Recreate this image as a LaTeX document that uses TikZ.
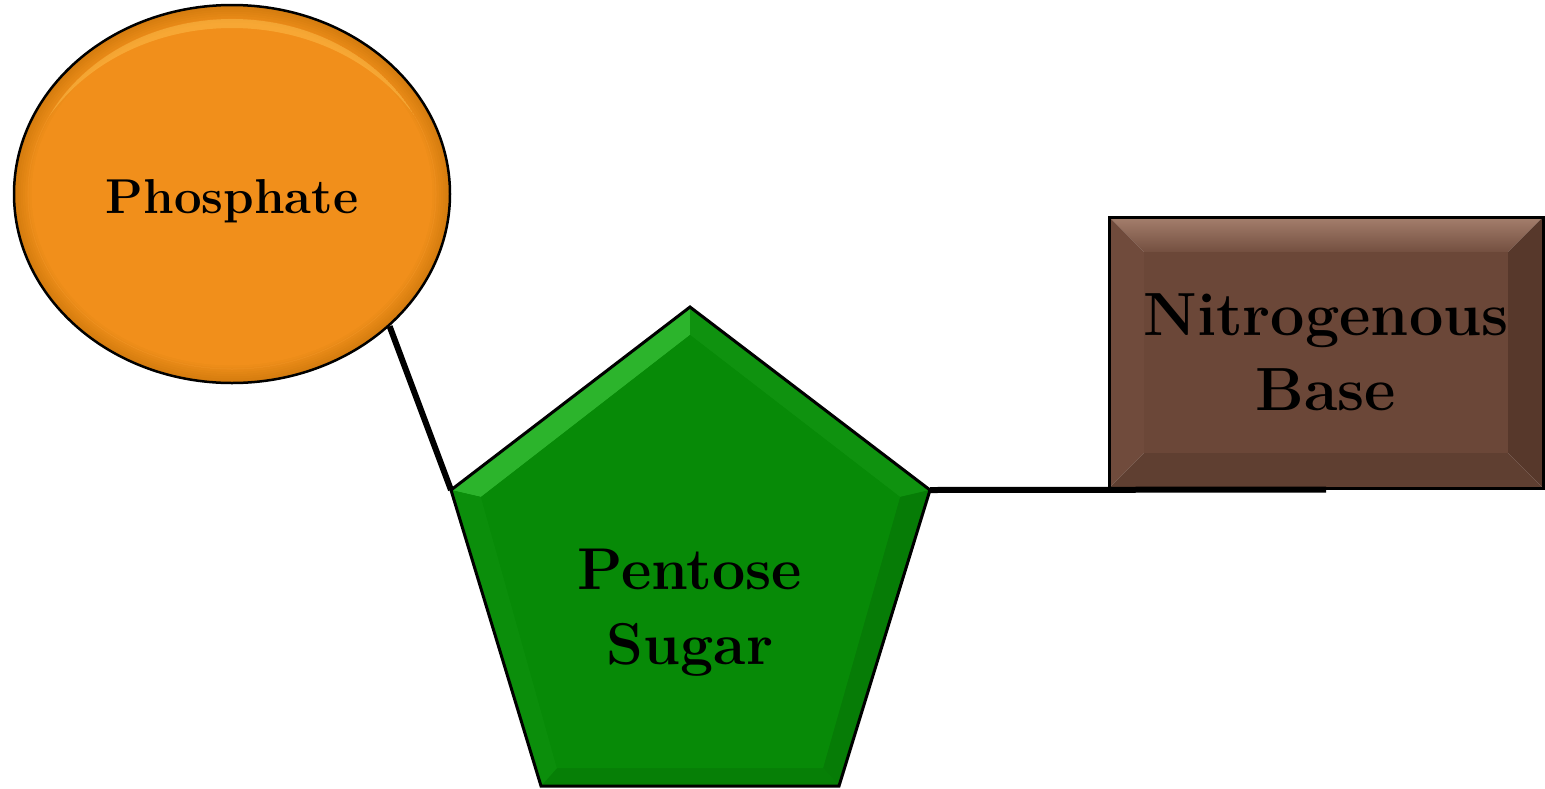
\documentclass[tikz,border=0pt]{standalone}
\usetikzlibrary{shapes.geometric,calc}
\definecolor{orangeF}{HTML}{F18F1B}
\definecolor{orangeD}{HTML}{D47C0E}
\definecolor{orangeL}{HTML}{FFC654}
\definecolor{greenF}{HTML}{078A07}
\definecolor{greenL}{HTML}{45CF45}
\definecolor{greenD}{HTML}{056E05}
\definecolor{brownF}{HTML}{6B4738}
\definecolor{brownL}{HTML}{A57F6D}
\definecolor{brownD}{HTML}{4E3226}
\begin{document}
\begin{tikzpicture}[x=1pt,y=-1pt,
  lbl/.style={font=\bfseries\fontsize{61}{75}\selectfont, align=center, text=black, inner sep=0pt},
  link/.style={line width=6pt, black},
  edge/.style={line width=3pt, black, line join=miter}]
\useasboundingbox (0,0) rectangle (1545,788);

% ---------- Phosphate (ellipse) ----------
\fill[orangeD] (232,194) ellipse [x radius=218, y radius=189];
\foreach \i in {1,...,8} {
  \pgfmathsetmacro\p{\i*12.5}
  \fill[orangeF!\p!orangeD] (232,194) ellipse [x radius={218-2.2*\i}, y radius={189-2.2*\i}];
}
\begin{scope}
  \clip (232,194) ellipse [x radius=204, y radius=175];
  \fill[orangeL, opacity=0.45, even odd rule]
    (232,194) ellipse [x radius=204, y radius=175]
    (232,207) ellipse [x radius=212, y radius=179];
\end{scope}
\node[ellipse, draw=black, line width=2.5pt, minimum width=436pt, minimum height=378pt, inner sep=0pt] (ph) at (232,194) {};
\node[lbl, font=\bfseries\fontsize{49}{60}\selectfont, anchor=base] (phT) at (232,213) {Phosphate};

% ---------- Pentose sugar (pentagon) ----------
\coordinate (pT)  at (690,307);
\coordinate (pR)  at (930,490);
\coordinate (pBR) at (839,786);
\coordinate (pBL) at (541,786);
\coordinate (pL)  at (451,490);
\coordinate (iT)  at (690,335);
\coordinate (iR)  at (900,497);
\coordinate (iBR) at (823,768);
\coordinate (iBL) at (557,768);
\coordinate (iL)  at (481,497);
\fill[greenF] (pT) -- (pR) -- (pBR) -- (pBL) -- (pL) -- cycle;
\fill[greenL!60!greenF] (pL) -- (pT) -- (iT) -- (iL) -- cycle;
\fill[greenF!88!greenL] (pT) -- (pR) -- (iR) -- (iT) -- cycle;
\fill[greenF!90!black] (pR) -- (pBR) -- (iBR) -- (iR) -- cycle;
\fill[greenF!92!black] (pBR) -- (pBL) -- (iBL) -- (iBR) -- cycle;
\fill[greenF!94!greenL] (pBL) -- (pL) -- (iL) -- (iBL) -- cycle;
\fill[greenF] (iT) -- (iR) -- (iBR) -- (iBL) -- (iL) -- cycle;
\draw[edge] (pT) -- (pR) -- (pBR) -- (pBL) -- (pL) -- cycle;
\node[lbl, font=\bfseries\fontsize{59}{75}\selectfont] (ps) at (690,613) {Pentose\\Sugar};

% ---------- Nitrogenous base (rectangle) ----------
\shade[top color=brownL, bottom color=brownF!85!brownL] (1109,217) -- (1543,217) -- (1508,252) -- (1144,252) -- cycle;
\fill[brownF!92!brownL] (1109,217) -- (1144,252) -- (1144,453) -- (1109,488) -- cycle;
\fill[brownD!70!brownF] (1543,217) -- (1508,252) -- (1508,453) -- (1543,488) -- cycle;
\fill[brownD!40!brownF] (1109,488) -- (1144,453) -- (1508,453) -- (1543,488) -- cycle;
\fill[brownF] (1144,252) rectangle (1508,453);
\node[lbl, draw=black, line width=3pt, minimum width=434pt, minimum height=271pt] (nb) at (1326,352.5) {Nitrogenous\\Base};

% ---------- connectors ----------
\draw[link] (ph.-40.5) -- (pL);
\draw[link] (pR) -- (nb.south);
\end{tikzpicture}
\end{document}
